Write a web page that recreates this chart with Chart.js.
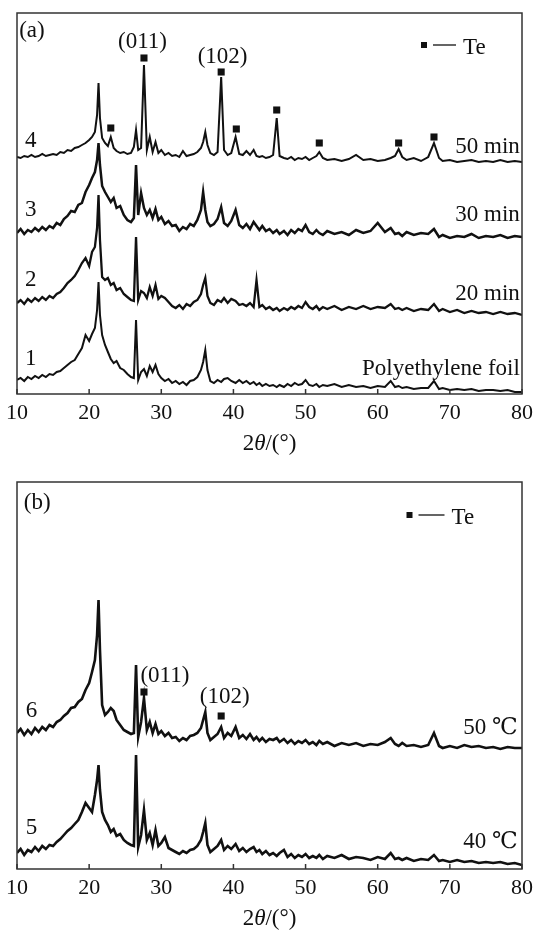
<!DOCTYPE html>
<html>
<head>
<meta charset="utf-8">
<script src="https://cdn.jsdelivr.net/npm/chart.js@4.4.0/dist/chart.umd.min.js"></script>
<style>
  body { margin: 0; background: #fff; }
  canvas { position: absolute; left: 0; }
  #panelA { top: 0; }
  #panelB { top: 460px; }
</style>
</head>
<body>
<canvas id="panelA" width="539" height="460"></canvas>
<canvas id="panelB" width="539" height="470"></canvas>
<script>
// 2theta grid shared by every pattern (denser around the reflections)
var twoTheta = [
  10, 10.5, 11, 11.5, 12, 12.5, 13, 13.5, 14, 14.5,
  15, 15.5, 16, 16.5, 17, 17.5, 18, 18.5, 19, 19.5,
  20, 20.4, 20.8, 21.1, 21.3, 21.5, 21.8, 22.2, 22.6, 23,
  23.4, 23.8, 24.3, 24.8, 25.3, 25.8, 26.2, 26.5, 26.8, 27.2,
  27.6, 28, 28.4, 28.8, 29.2, 29.6, 30, 30.5, 31, 31.5,
  32, 32.5, 33, 33.5, 34, 34.5, 35, 35.5, 35.8, 36.1,
  36.4, 36.8, 37.3, 37.8, 38.3, 38.7, 39.2, 39.7, 40.3, 40.8,
  41.3, 41.8, 42.3, 42.8, 43.2, 43.6, 44, 44.5, 45, 45.5,
  46, 46.4, 47, 47.5, 48, 48.5, 49, 49.5, 50, 50.5,
  51, 51.5, 51.9, 52.4, 53, 54, 55, 56, 57, 58,
  59, 60, 61, 61.8, 62.4, 62.9, 63.4, 64, 65, 66,
  67, 67.8, 68.5, 69, 70, 71, 72, 73, 74, 75,
  76, 77, 78, 79, 80
];

// (a) stacked intensities, a.u.
var int50min = [
  237, 236, 238, 237, 239, 237, 238, 240, 238, 239,
  240, 239, 242, 241, 244, 243, 246, 247, 249, 251,
  254, 257, 262, 279, 311, 276, 256, 251, 248, 257,
  246, 243, 241, 242, 240, 241, 247, 264, 244, 246,
  329, 244, 257, 242, 252, 241, 244, 239, 241, 238,
  239, 237, 243, 238, 239, 240, 242, 246, 252, 262,
  249, 241, 239, 242, 317, 244, 239, 241, 257, 240,
  239, 243, 239, 244, 238, 237, 238, 236, 237, 239,
  276, 238, 236, 235, 237, 234, 236, 235, 237, 234,
  236, 238, 242, 236, 234, 235, 233, 235, 239, 234,
  235, 233, 234, 236, 238, 245, 237, 234, 236, 233,
  237, 251, 236, 233, 234, 232, 233, 234, 232, 233,
  232, 234, 232, 233, 232
];
var int30min = [
  161, 165, 160, 164, 162, 166, 163, 167, 164, 168,
  166, 171, 169, 175, 178, 183, 182, 189, 191, 202,
  209, 216, 222, 234, 251, 229, 208, 202, 197, 192,
  196, 186, 188, 179, 174, 172, 176, 229, 179, 201,
  186, 179, 184, 176, 185, 174, 177, 170, 173, 168,
  169, 163, 167, 165, 170, 168, 174, 184, 202, 184,
  172, 168, 170, 175, 187, 171, 168, 173, 184, 169,
  166, 170, 165, 172, 168, 164, 168, 163, 165, 161,
  164, 160, 163, 159, 164, 161, 165, 163, 169, 162,
  160, 164, 161, 159, 163, 160, 162, 159, 164, 161,
  163, 171, 162, 166, 160, 161, 158, 162, 159, 161,
  160, 165, 157, 159, 156, 158, 157, 160, 156, 158,
  157, 159, 156, 158, 157
];
var int20min = [
  91, 94, 90, 95, 92, 96, 93, 97, 94, 98,
  96, 100, 102, 106, 111, 114, 118, 124, 131, 136,
  128, 142, 147, 166, 199, 154, 117, 114, 116, 109,
  111, 104, 106, 100, 97, 94, 93, 157, 94, 103,
  101, 96, 107, 98, 109, 95, 98, 96, 92, 88,
  86, 89, 85, 90, 88, 92, 94, 100, 109, 116,
  98, 91, 89, 94, 92, 96, 91, 95, 93, 89,
  90, 88, 91, 87, 114, 87, 89, 85, 87, 84,
  86, 83, 86, 84, 87, 85, 88, 86, 92, 87,
  85, 88, 84, 87, 85, 88, 84, 87, 85, 88,
  85, 87, 86, 90, 85, 86, 84, 86, 83, 85,
  84, 90, 83, 85, 82, 84, 81, 83, 81, 82,
  80, 82, 80, 81, 79
];
var intFoil = [
  14, 16, 13, 17, 15, 18, 16, 19, 17, 20,
  19, 22, 23, 26, 29, 32, 34, 40, 46, 59,
  53, 60, 66, 84, 112, 79, 59, 49, 42, 35,
  31, 33, 26, 24, 20, 17, 16, 74, 14, 22,
  25, 18, 28, 22, 29, 20, 16, 13, 15, 11,
  13, 10, 12, 9, 13, 14, 17, 24, 32, 44,
  24, 13, 11, 14, 12, 15, 16, 13, 11, 14,
  11, 13, 10, 12, 9, 11, 8, 10, 8, 9,
  7, 9, 7, 10, 8, 11, 9, 10, 14, 9,
  8, 10, 7, 9, 8, 10, 7, 9, 7, 8,
  6, 8, 7, 13, 7, 8, 6, 7, 5, 6,
  6, 13, 5, 6, 4, 5, 4, 5, 3, 4,
  4, 3, 4, 2, 2
];

// (b) stacked intensities, a.u.
var int50C = [
  136, 140, 134, 139, 135, 141, 137, 142, 139, 144,
  142, 147, 149, 153, 156, 161, 162, 167, 170, 179,
  186, 197, 209, 234, 269, 219, 164, 154, 157, 161,
  158, 149, 144, 139, 137, 135, 136, 204, 132, 147,
  171, 139, 147, 136, 145, 135, 138, 133, 136, 131,
  132, 128, 131, 129, 133, 134, 136, 141, 149, 157,
  136, 129, 132, 135, 142, 131, 136, 133, 142, 131,
  134, 130, 135, 129, 132, 128, 131, 127, 130, 129,
  131, 127, 130, 126, 129, 125, 128, 126, 129, 125,
  127, 124, 128, 125, 127, 123, 126, 124, 126, 123,
  125, 124, 127, 131, 125, 123, 126, 123, 124, 122,
  124, 136, 123, 121, 123, 121, 124, 122, 123, 121,
  122, 120, 122, 121, 121
];
var int40C = [
  16, 20, 14, 19, 17, 22, 18, 23, 20, 24,
  23, 27, 30, 34, 38, 41, 45, 49, 57, 66,
  61, 57, 74, 89, 104, 79, 57, 49, 44, 37,
  40, 33, 35, 29, 26, 24, 23, 114, 22, 34,
  59, 29, 36, 24, 39, 23, 26, 32, 21, 19,
  17, 15, 18, 16, 19, 20, 23, 29, 37, 46,
  24, 17, 20, 23, 29, 19, 23, 20, 25, 18,
  21, 17, 20, 22, 17, 19, 15, 18, 14, 16,
  13, 16, 19, 12, 15, 11, 14, 12, 15, 11,
  13, 11, 14, 10, 13, 11, 14, 10, 12, 11,
  9, 12, 10, 16, 10, 11, 9, 11, 8, 10,
  9, 14, 8, 9, 7, 9, 7, 8, 6, 7,
  6, 7, 5, 6, 4
];

// Te reflections marked with squares
var teThetaA = [23.0, 27.6, 38.3, 40.4, 46.0, 51.9, 62.9, 67.8];
var teIntA = [266, 336, 322, 265, 284, 251, 251, 257];
var teThetaB = [27.6, 38.3];
var teIntB = [177, 153];

var curveNumA = ['4', '3', '2', '1'];
var sampleA = ['50 min', '30 min', '20 min', 'Polyethylene foil'];
var curveNumB = ['6', '5'];
var sampleB = ['50 \u2103', '40 \u2103'];
var planes = ['(011)', '(102)'];

var SERIF = '"Liberation Serif", "DejaVu Serif", serif';

function decorPlugin(notes, legend, titleDy)
{
  return {
    id: 'decor',
    afterDatasetsDraw: function(chart)
    {
      var ctx = chart.ctx, a = chart.chartArea, xs = chart.scales.x, ys = chart.scales.y;
      ctx.save();
      ctx.strokeStyle = '#333';
      ctx.lineWidth = 1.5;
      ctx.strokeRect(a.left, a.top, a.right - a.left, a.bottom - a.top);

      // short ticks pointing into the plot
      ctx.beginPath();
      xs.ticks.forEach(function(t)
      {
        var px = xs.getPixelForValue(t.value);
        ctx.moveTo(px, a.bottom);
        ctx.lineTo(px, a.bottom - 5);
      });
      ctx.stroke();

      ctx.fillStyle = '#111';
      ctx.font = '23px ' + SERIF;
      ctx.textBaseline = 'middle';
      notes.forEach(function(n)
      {
        ctx.textAlign = n.align || 'center';
        ctx.fillText(n.text, xs.getPixelForValue(n.x), ys.getPixelForValue(n.y));
      });

      // legend: square — Te
      var lx = a.right - legend.dx, ly = a.top + legend.dy;
      ctx.fillRect(lx - 3, ly - 3, 6, 6);
      ctx.strokeStyle = '#111';
      ctx.lineWidth = 1.3;
      ctx.beginPath();
      ctx.moveTo(lx + 9, ly);
      ctx.lineTo(lx + 9 + legend.len, ly);
      ctx.stroke();
      ctx.textAlign = 'left';
      ctx.fillText('Te', lx + 16 + legend.len, ly + 3);

      // axis title 2θ/(°)
      var parts = [['2', ''], ['\u03b8', 'italic '], ['/(\u00b0)', '']];
      var w = 0;
      parts.forEach(function(p) { ctx.font = p[1] + '23px ' + SERIF; w += ctx.measureText(p[0]).width; });
      var tx = (a.left + a.right) / 2 - w / 2, ty = a.bottom + titleDy;
      parts.forEach(function(p)
      {
        ctx.font = p[1] + '23px ' + SERIF;
        ctx.fillText(p[0], tx, ty);
        tx += ctx.measureText(p[0]).width;
      });
      ctx.restore();
    }
  };
}

function buildPanel(id, yMax, pad, axisH, curves, widths, teX, teY, notes, legend, titleDy)
{
  var datasets = curves.map(function(c, k)
  {
    return {
      type: 'line',
      data: twoTheta.map(function(t, i) { return {x: t, y: c[i]}; }),
      borderColor: '#111',
      borderWidth: widths[k],
      pointRadius: 0,
      tension: 0,
      fill: false
    };
  });
  datasets.push({
    type: 'scatter',
    data: teX.map(function(t, i) { return {x: t, y: teY[i]}; }),
    pointStyle: 'rect',
    pointRadius: 5,
    backgroundColor: '#111',
    borderWidth: 0
  });

  return new Chart(document.getElementById(id), {
    type: 'line',
    data: { datasets: datasets },
    options: {
      responsive: false,
      animation: false,
      events: [],
      layout: { padding: pad },
      plugins: { legend: { display: false }, tooltip: { enabled: false } },
      scales: {
        x: {
          type: 'linear', min: 10, max: 80,
          afterFit: function(s) { s.height = axisH; },
          grid: { display: false, drawTicks: false },
          border: { display: false },
          ticks: { stepSize: 10, autoSkip: false, maxRotation: 0, padding: 6, color: '#111', font: { family: SERIF, size: 22 } }
        },
        y: { display: false, min: 0, max: yMax }
      }
    },
    plugins: [decorPlugin(notes, legend, titleDy)]
  });
}

var notesA = [
  {text: '(a)', x: 10.3, y: 363, align: 'left'},
  {text: planes[0], x: 27.4, y: 352},
  {text: planes[1], x: 38.5, y: 337}
];
[253, 184, 114, 35].forEach(function(v, i) { notesA.push({text: curveNumA[i], x: 11.9, y: v}); });
[247, 179, 100, 25].forEach(function(v, i) { notesA.push({text: sampleA[i], x: 79.7, y: v, align: 'right'}); });

var notesB = [
  {text: '(b)', x: 10.95, y: 366, align: 'left'},
  {text: planes[0], x: 30.5, y: 193},
  {text: planes[1], x: 38.8, y: 172}
];
[158, 41].forEach(function(v, i) { notesB.push({text: curveNumB[i], x: 12.0, y: v}); });
[141, 27].forEach(function(v, i) { notesB.push({text: sampleB[i], x: 79.4, y: v, align: 'right'}); });

buildPanel('panelA', 381, {left: 15, right: 10, top: 13, bottom: 0}, 66,
  [int50min, int30min, int20min, intFoil], [2.0, 2.5, 2.3, 2.0],
  teThetaA, teIntA, notesA, {dx: 98, dy: 32, len: 23}, 50);

buildPanel('panelB', 387, {left: 16, right: 10, top: 22, bottom: 0}, 61,
  [int50C, int40C], [2.6, 2.6],
  teThetaB, teIntB, notesB, {dx: 112.5, dy: 33, len: 26}, 50);
</script>
</body>
</html>
